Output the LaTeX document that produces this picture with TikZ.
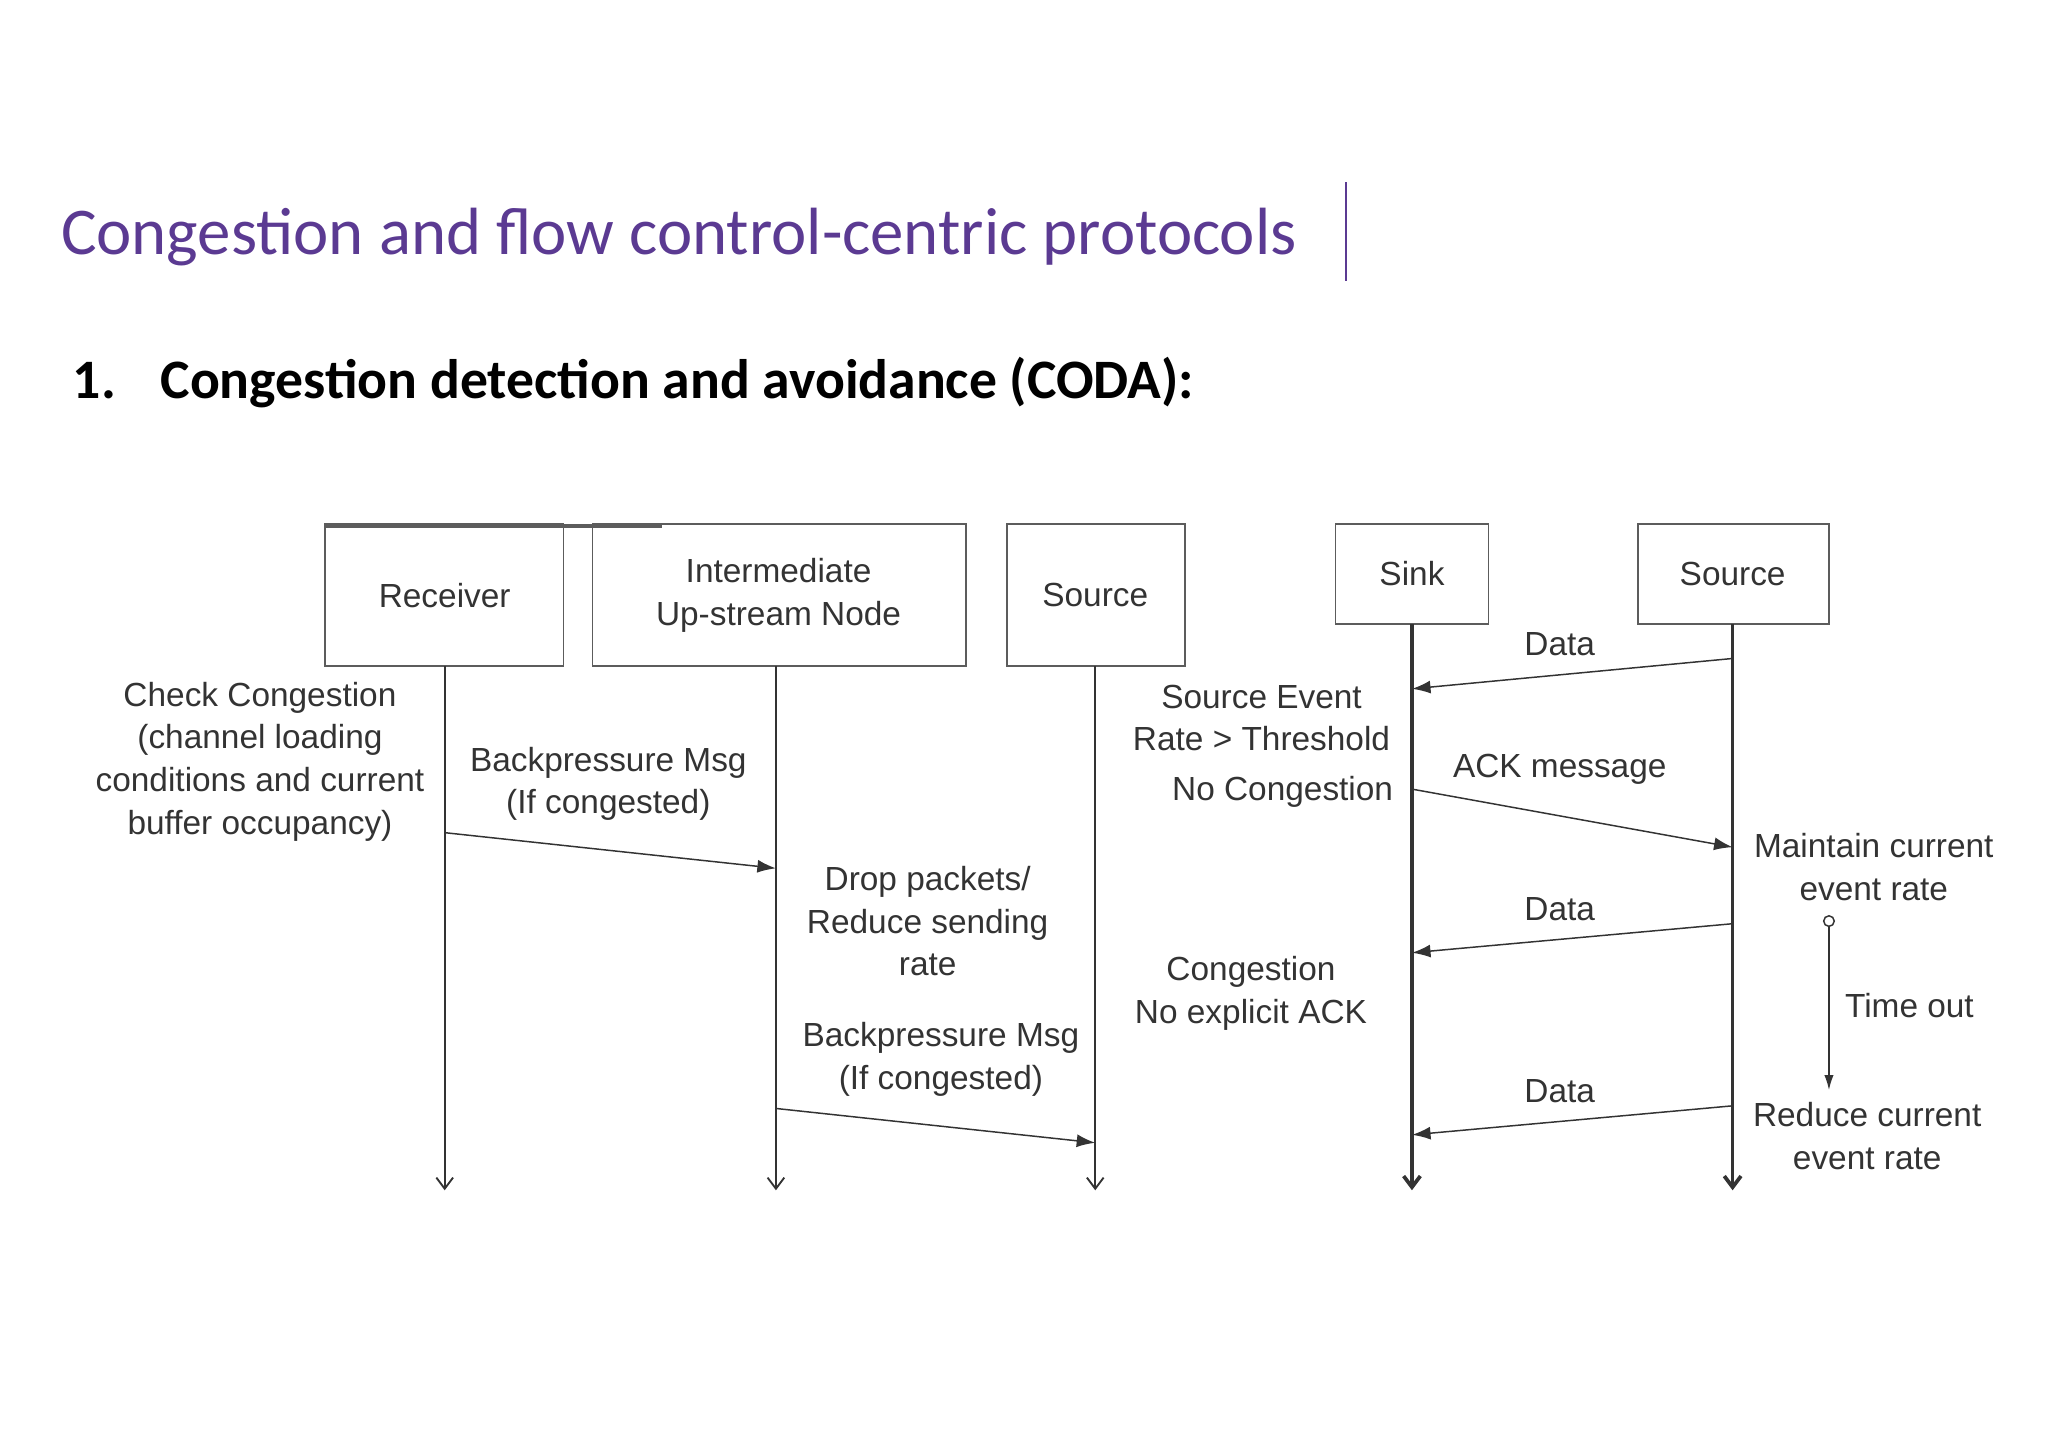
\documentclass[tikz,border=0pt]{standalone}
\usepackage{fontspec}
\setmainfont{Liberation Sans}
\newfontfamily\carl{Carlito}
\usetikzlibrary{arrows.meta}
\definecolor{ttl}{HTML}{5B3A92}
\definecolor{ink}{HTML}{333333}
\begin{document}
\begin{tikzpicture}[x=0.025cm,y=-0.025cm,
  box/.style={draw=ink!80,line width=1pt,inner sep=0pt},
  life/.style={draw=ink,line width=1pt,-{Straight Barb[length=6pt,width=9pt]}},
  msg/.style={draw=ink,line width=0.8pt,-{Latex[length=10pt,width=7pt]}},
  lbl/.style={font=\fontsize{18}{23}\selectfont,text=ink,align=center,inner sep=0pt}]
\useasboundingbox (0,0) rectangle (1552,1097);
\node[anchor=base west,text=ttl,font=\carl\fontsize{36}{40}\selectfont,inner sep=0pt] (title) at (46,193) {Congestion and flow control-centric protocols};
\draw[ttl,line width=1pt] (1020,138) -- (1020,213);
\node[anchor=west,font=\carl\bfseries\fontsize{30}{34}\selectfont,inner sep=0pt] (head) at (55,290) {1.\hspace{0.8em}Congestion detection and avoidance (CODA):};
% boxes
\node[box,minimum width=181\pgflinewidth,anchor=north west] at (246,397) {};
\draw[box] (246,397) rectangle (427,505); \node[lbl] (rcv) at (337,451) {Receiver};
\draw[box] (449,397) rectangle (732,505); \node[lbl] (inter) at (590,451) {Intermediate\\Up-stream Node};
\draw[box] (763,397) rectangle (898,505); \node[lbl] (src) at (830,451) {Source};
\draw[box] (1012,397) rectangle (1128,473); \node[lbl] (sink) at (1070,435) {Sink};
\draw[box] (1241,397) rectangle (1386,473); \node[lbl] (src2) at (1313,435) {Source};
\coordinate (r0) at (337,505); \coordinate (r1) at (337,902);
\coordinate (i0) at (588,505); \coordinate (i1) at (588,902);
\coordinate (s0) at (830,505); \coordinate (s1) at (830,902);
\coordinate (k0) at (1070,473); \coordinate (k1) at (1070,902);
\coordinate (q0) at (1313,473); \coordinate (q1) at (1313,902);
\draw[life] (r0)--(r1); \draw[life] (i0)--(i1); \draw[life] (s0)--(s1);
\draw[life,line width=2pt] (k0)--(k1); \draw[life,line width=2pt] (q0)--(q1);
% messages
\coordinate (a1) at (337,631); \coordinate (a2) at (588,658);
\draw[msg] (a1)--(a2);
\coordinate (b1) at (588,840); \coordinate (b2) at (830,866);
\draw[msg] (b1)--(b2);
\coordinate (c1) at (1313,499); \coordinate (c2) at (1070,522);
\draw[msg] (c1)--(c2);
\coordinate (d1) at (1070,598); \coordinate (d2) at (1313,642);
\draw[msg] (d1)--(d2);
\coordinate (e1) at (1313,700); \coordinate (e2) at (1070,722);
\draw[msg] (e1)--(e2);
\coordinate (f1) at (1313,838); \coordinate (f2) at (1070,860);
\draw[msg] (f1)--(f2);
\coordinate (t1) at (1386,702); \coordinate (t2) at (1386,826);
\draw[ink,line width=0.8pt] (1386,698) circle (4);
\draw[msg,-{Latex[length=8pt,width=5pt]}] (t1)--(t2);
% labels
\node[lbl] at (197,577) {Check Congestion\\(channel loading\\conditions and current\\buffer occupancy)};
\node[lbl] at (461,594) {Backpressure Msg\\(If congested)};
\node[lbl] at (703,698) {Drop packets/\\Reduce sending\\rate};
\node[lbl] at (713,803) {Backpressure Msg\\(If congested)};
\node[lbl] at (956,544) {Source Event\\Rate > Threshold};
\node[lbl] at (972,600) {No Congestion};
\node[lbl] at (948,753) {Congestion\\No explicit ACK};
\node[lbl] at (1182,488) {Data};
\node[lbl] at (1182,583) {ACK message};
\node[lbl] at (1420,657) {Maintain current\\event rate};
\node[lbl] at (1182,689) {Data};
\node[lbl] at (1447,762) {Time out};
\node[lbl] at (1182,827) {Data};
\node[lbl] at (1415,861) {Reduce current\\event rate};
\end{tikzpicture}
\end{document}
